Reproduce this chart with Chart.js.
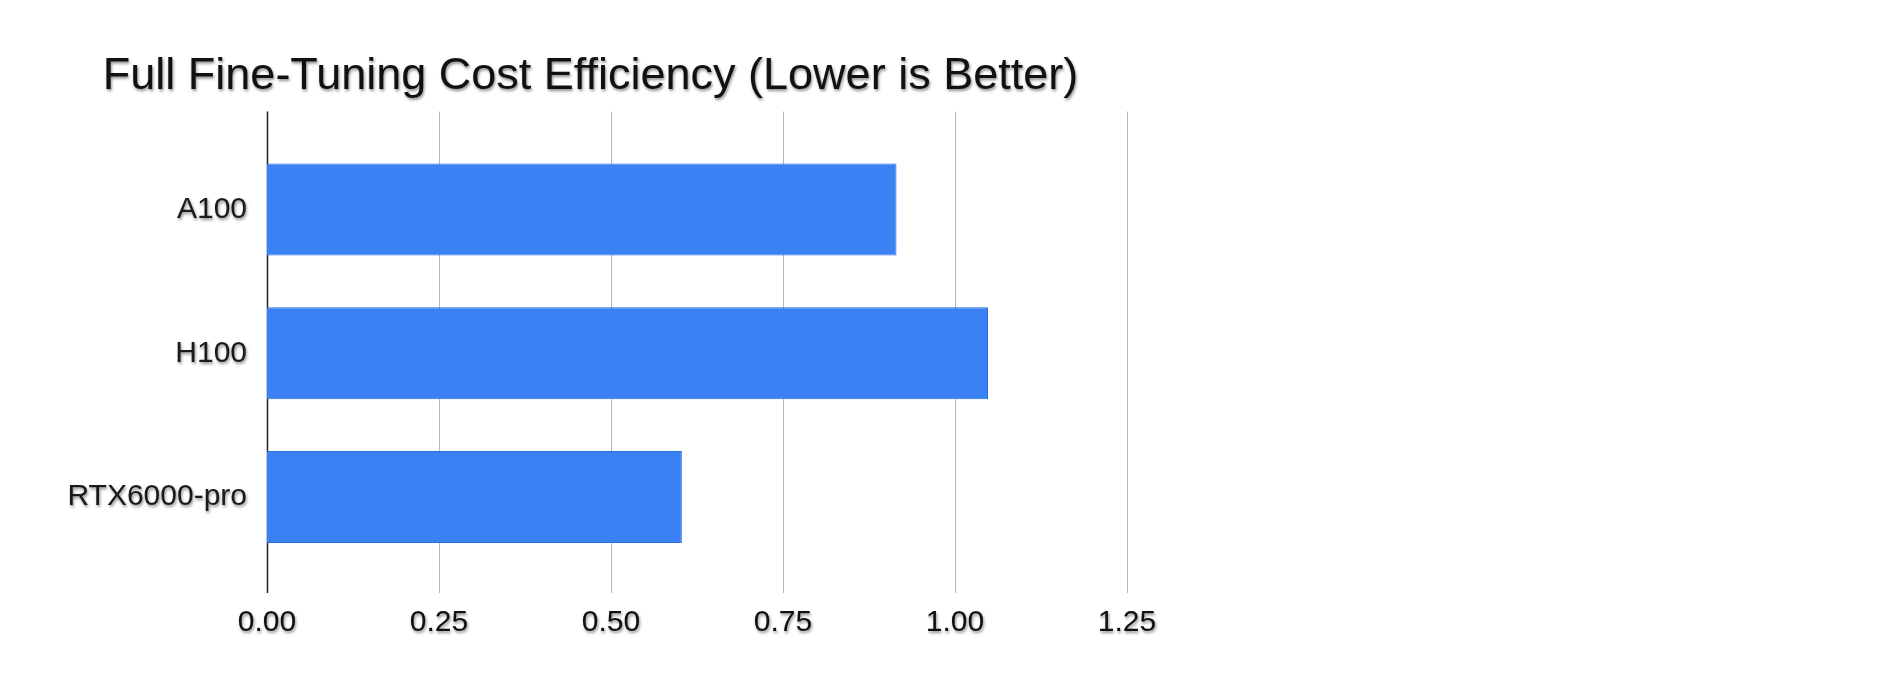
<!DOCTYPE html>
<html>
<head>
<meta charset="utf-8">
<script src="https://cdn.jsdelivr.net/npm/chart.js@4"></script>
<style>
  html, body { margin: 0; padding: 0; background: #fff; }
  #wrap { width: 1883px; height: 673px; }
</style>
</head>
<body>
<div id="wrap"><canvas id="cost-chart"></canvas></div>
<script>
// Data
const gpus = ['A100', 'H100', 'RTX6000-pro'];
const costValues = [0.915, 1.048, 0.603];
const xTicks = [0, 0.25, 0.5, 0.75, 1.0, 1.25];

// Soft text shadow for title/labels, then long vertical gridlines under the bars
const gridPlugin = {
    id: 'longGrid',
    beforeDraw(chart) {
        const c = chart.ctx;
        c.save();
        c.shadowColor = 'rgba(0, 0, 0, 0.45)';
        c.shadowBlur = 3;
        c.shadowOffsetX = 1;
        c.shadowOffsetY = 2;
    },
    beforeDatasetsDraw(chart) {
        const c = chart.ctx;
        c.restore();
        const area = chart.chartArea;
        const x = chart.scales.x;
        c.save();
        xTicks.forEach(function(t) {
            const px = Math.round(x.getPixelForValue(t)) + 0.5;
            c.beginPath();
            c.strokeStyle = t === 0 ? '#222222' : '#b8b8b8';
            c.lineWidth = t === 0 ? 1.5 : 1;
            c.moveTo(px, area.top - 26);
            c.lineTo(px, area.bottom + 24);
            c.stroke();
        });
        c.restore();
    }
};

const ctx = document.getElementById('cost-chart').getContext('2d');
new Chart(ctx, {
    type: 'bar',
    data: {
        labels: gpus,
        datasets: [{
            label: 'Cost',
            data: costValues,
            backgroundColor: '#3a82f4',
            borderColor: '#2c6fe0',
            borderWidth: 1,
            categoryPercentage: 1,
            barPercentage: 0.64
        }]
    },
    plugins: [gridPlugin],
    options: {
        indexAxis: 'y',
        responsive: true,
        maintainAspectRatio: false,
        animation: false,
        layout: {
            padding: { left: 54, right: 756, top: 0, bottom: 0 }
        },
        plugins: {
            legend: { display: false },
            tooltip: { enabled: false },
            title: {
                display: true,
                text: 'Full Fine-Tuning Cost Efficiency (Lower is Better)',
                align: 'center',
                color: '#111111',
                font: { family: '"Liberation Sans", sans-serif', size: 45, weight: 'normal' },
                padding: { top: 50, bottom: 33.5 }
            }
        },
        scales: {
            x: {
                type: 'linear',
                min: 0,
                max: 1.25,
                grid: { display: false },
                border: { display: false },
                afterFit: function(scale) { scale.height = 104; },
                ticks: {
                    stepSize: 0.25,
                    padding: 28,
                    color: '#111111',
                    font: { family: '"Liberation Sans", sans-serif', size: 30 },
                    callback: function(v) { return v.toFixed(2); }
                }
            },
            y: {
                offset: true,
                grid: { display: false },
                border: { display: false },
                afterFit: function(scale) { scale.width = 213; },
                ticks: {
                    padding: 12,
                    color: '#1a1a1a',
                    font: { family: '"Liberation Sans", sans-serif', size: 30 }
                }
            }
        }
    }
});
</script>
</body>
</html>
